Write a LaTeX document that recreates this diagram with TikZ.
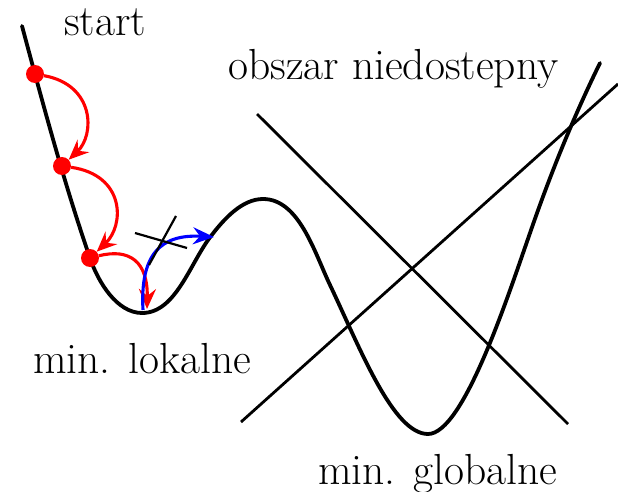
\documentclass[tikz,border=0pt]{standalone}
\usepackage{fontspec}
\usetikzlibrary{arrows.meta}
\tikzset{
  curveline/.style={line width=3.8pt, line join=round, line cap=round},
  straightline/.style={line width=2.8pt},
  crossline/.style={line width=2.2pt},
  dot/.style={circle, fill=red, inner sep=0pt, minimum size=18pt},
  redarrow/.style={red, line width=3.1pt, -{Stealth[length=20pt, width=17pt, inset=7pt]}},
  bluearrow/.style={blue, line width=3.1pt, -{Stealth[length=21pt, width=17pt, inset=7pt]}},
  lbl/.style={font=\fontsize{43.5}{52}\selectfont, inner sep=0pt, anchor=base west},
}
\begin{document}
\begin{tikzpicture}[x=1pt, y=-1pt]
\useasboundingbox (0,0) rectangle (618,492);
% straight lines
\coordinate (l1a) at (257,114);
\coordinate (l1b) at (568,424);
\coordinate (l2a) at (241,422);
\coordinate (l2b) at (618,84);
\draw[straightline] (l1a) -- (l1b);
\draw[straightline] (l2a) -- (l2b);
% main curve
\draw[curveline] (22,26)
  .. controls (43,104) and (64,183) .. (90,258)
  .. controls (98,282) and (117,313) .. (142,313)
  .. controls (176,313) and (190,263) .. (211,236)
  .. controls (224,219) and (242,199) .. (263,199)
  .. controls (299,199) and (314.5,252.5) .. (330,285)
  .. controls (360,348) and (393,434) .. (428,434)
  .. controls (463,434) and (507,299) .. (530,233)
  .. controls (550,175) and (573,118) .. (600,63);
% dots
\node[dot] (p1) at (35,74) {};
\node[dot] (p2) at (62,166) {};
\node[dot] (p3) at (90,258) {};
\coordinate (lmin) at (147,309);
\coordinate (bmin) at (143,310);
\coordinate (btip) at (214,237);
% red arrows
\draw[redarrow] (p1) .. controls (95,85) and (95,135) .. (p2);
\draw[redarrow] (p2) .. controls (125,175) and (125,225) .. (p3);
\draw[redarrow] (p3) .. controls (130,248) and (148,262) .. (lmin);
% blue arrow
\draw[bluearrow] (bmin) .. controls (140,255) and (160,234) .. (btip);
% cross
\coordinate (c1a) at (135,233);
\coordinate (c1b) at (187,248);
\coordinate (c2a) at (176,216);
\coordinate (c2b) at (149,265);
\draw[crossline] (c1a) -- (c1b);
\draw[crossline] (c2a) -- (c2b);
% labels
\node[lbl] (tstart) at (64,36) {start};
\node[lbl] (tobszar) at (228,80) {obszar niedostepny};
\node[lbl] (tlok) at (33,373) {min. lokalne};
\node[lbl] (tglob) at (318,484) {min. globalne};
\end{tikzpicture}
\end{document}
